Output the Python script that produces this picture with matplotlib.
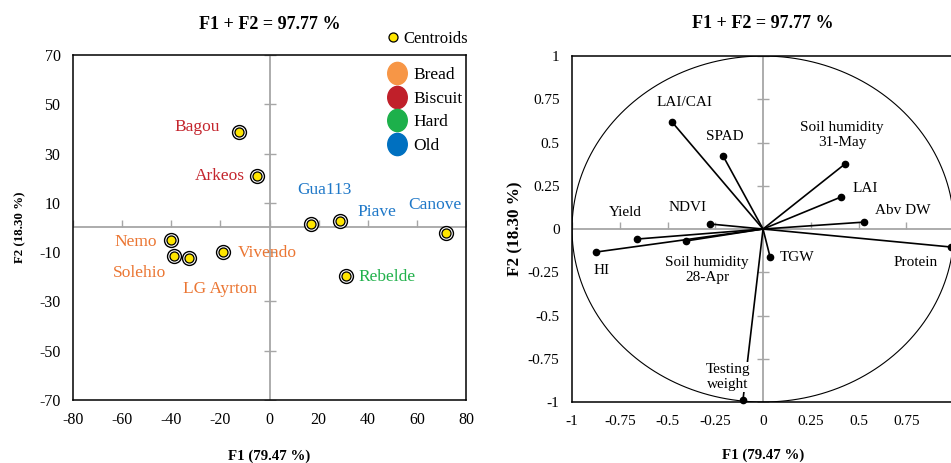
import numpy as np
import matplotlib
matplotlib.use("Agg")
import matplotlib.pyplot as plt
from matplotlib.lines import Line2D
from matplotlib.markers import MarkerStyle
from matplotlib.transforms import Affine2D

plt.rcParams['font.family'] = ['Liberation Serif', 'DejaVu Serif']
plt.rcParams['axes.unicode_minus'] = False

# ---- observations (centroids) ----
cultivars = ["Bagou", "Arkeos", "Gua113", "Piave", "Canove",
             "Nemo", "Solehio", "LG Ayrton", "Vivendo", "Rebelde"]
f1_obs = [-12.4, -5.1, 16.9, 28.7, 71.9, -40.1, -38.9, -32.8, -18.9, 31.2]
f2_obs = [38.8, 20.9, 1.4, 2.6, -2.2, -5.1, -11.6, -12.4, -9.9, -19.7]
groups = ["Biscuit", "Biscuit", "Old", "Old", "Old",
          "Bread", "Bread", "Bread", "Bread", "Hard"]

# ---- variables (correlation circle) ----
variables = ["LAI/CAI", "SPAD", "Soil humidity\n31-May", "LAI", "Abv DW", "NDVI",
             "Yield", "Soil humidity\n28-Apr", "HI", "TGW", "Protein", "Testing\nweight"]
f1_var = [-0.476, -0.209, 0.429, 0.408, 0.529, -0.277,
          -0.660, -0.403, -0.874, 0.037, 0.984, -0.105]
f2_var = [0.618, 0.422, 0.376, 0.185, 0.040, 0.029,
          -0.058, -0.069, -0.133, -0.162, -0.104, -0.988]

group_names = ["Bread", "Biscuit", "Hard", "Old"]
legend_colors = {"Bread": "#F79646", "Biscuit": "#C0202A", "Hard": "#1DB04B", "Old": "#0070C0"}
text_colors = {"Bread": "#EB7633", "Biscuit": "#C4262E", "Hard": "#22B14C", "Old": "#1F78C8"}

# label offsets in pixels (dx, dy up)
obs_off = [(-42, 5), (-37, 0), (13, 34), (37, 9), (-11, 28),
           (-35, -2), (-35, -17), (31, -31), (44, -1), (41, -1)]
var_off = [(12, 20), (2, 20), (-3, 29), (24, 9), (39, 12), (-23, 17),
           (-12, 27), (21, -29), (6, -18), (27, 0), (-35, -15), (-15, 23)]

title = "F1 + F2 = 97.77 %"
xlab = "F1 (79.47 %)"
ylab = "F2 (18.30 %)"

fig = plt.figure(figsize=(9.51, 4.63), dpi=100)
px = 0.72  # pixels -> points

# ================= left: observations =================
ax1 = fig.add_axes([0.0768, 0.1361, 0.4133, 0.7451])
ax1.set_xlim(-80, 80)
ax1.set_ylim(-70, 70)
xt1 = np.arange(-80, 81, 20)
yt1 = np.arange(-70, 71, 20)
ax1.set_xticks(xt1)
ax1.set_yticks(yt1)
ax1.tick_params(length=0, labelsize=11.5, pad=9)
ax1.axhline(0, color="#A6A6A6", lw=1.3, zorder=1)
ax1.axvline(0, color="#A6A6A6", lw=1.3, zorder=1)
ax1.plot(xt1, np.zeros(len(xt1)), ls="none", marker=2, ms=5, mew=1, color="#A6A6A6", zorder=1)
ax1.plot(np.zeros(len(yt1)), yt1, ls="none", marker="_", ms=8, mew=1, color="#A6A6A6", zorder=1)
for s in ax1.spines.values():
    s.set_linewidth(1.1)

ax1.plot(f1_obs, f2_obs, ls="none", marker="o", ms=10, mfc="white", mec="black", mew=1.0, zorder=3)
ax1.plot(f1_obs, f2_obs, ls="none", marker="o", ms=6.5, mfc="#FFE600", mec="black", mew=0.9, zorder=4)
for name, x, y, g, (dx, dy) in zip(cultivars, f1_obs, f2_obs, groups, obs_off):
    ax1.annotate(name, (x, y), xytext=(dx * px, dy * px), textcoords="offset points",
                 ha="center", va="center", fontsize=12.5, color=text_colors[g])

ax1.set_title(title, fontsize=13, fontweight="bold", pad=19)
ax1.set_xlabel(xlab, fontsize=10.7, fontweight="bold", labelpad=15)
ax1.set_ylabel(ylab, fontsize=9.3, fontweight="bold", labelpad=9)

ell = MarkerStyle("o", transform=Affine2D().scale(0.88, 1.0))
handles = [Line2D([], [], ls="none", marker=ell, ms=16, mfc=legend_colors[g], mec=legend_colors[g])
           for g in group_names]
leg = ax1.legend(handles, group_names, loc="upper right", frameon=False, fontsize=12.5,
                 handlelength=1.0, handletextpad=0.45, labelspacing=0.42,
                 borderaxespad=0.0, bbox_to_anchor=(1.008, 0.985))
ax1.add_artist(leg)
ch = Line2D([], [], ls="none", marker="o", ms=6.5, mfc="#FFE600", mec="black", mew=0.9)
ax1.legend([ch], ["Centroids"], loc="lower right", frameon=False, fontsize=12,
           handlelength=0.6, handletextpad=0.3, borderaxespad=0,
           bbox_to_anchor=(1.022, 1.005))

# ================= right: correlation circle =================
ax2 = fig.add_axes([0.6015, 0.1317, 0.4017, 0.7473])
ax2.set_xlim(-1, 1)
ax2.set_ylim(-1, 1)
xt2 = [-1, -0.75, -0.5, -0.25, 0, 0.25, 0.5, 0.75]
yt2 = [-1, -0.75, -0.5, -0.25, 0, 0.25, 0.5, 0.75, 1]
fmt = lambda v: "0" if v == 0 else ("%g" % v)
ax2.set_xticks(xt2)
ax2.set_xticklabels([fmt(v) for v in xt2])
ax2.set_yticks(yt2)
ax2.set_yticklabels([fmt(v) for v in yt2])
ax2.tick_params(length=0, labelsize=11, pad=9)
ax2.axhline(0, color="#A6A6A6", lw=1.3, zorder=1)
ax2.axvline(0, color="#A6A6A6", lw=1.3, zorder=1)
ax2.plot(xt2, np.zeros(len(xt2)), ls="none", marker=2, ms=5, mew=1, color="#A6A6A6", zorder=1)
ax2.plot(np.zeros(len(yt2)), yt2, ls="none", marker="_", ms=8, mew=1, color="#A6A6A6", zorder=1)
for s in ax2.spines.values():
    s.set_linewidth(1.1)
ax2.spines["right"].set_visible(False)

th = np.linspace(0, 2 * np.pi, 400)
ax2.plot(np.cos(th), np.sin(th), color="black", lw=0.8, zorder=2)
for name, x, y, (dx, dy) in zip(variables, f1_var, f2_var, var_off):
    ax2.plot([0, x], [0, y], color="black", lw=1.2, zorder=3)
    ax2.plot([x], [y], ls="none", marker="o", ms=4.5, color="black", zorder=4, clip_on=False)
    bb = dict(facecolor="white", edgecolor="none", pad=1) if name.startswith("Testing") else None
    ax2.annotate(name, (x, y), xytext=(dx * px, dy * px), textcoords="offset points",
                 ha="center", va="center", fontsize=11, linespacing=1.15, bbox=bb, zorder=5)

ax2.set_title(title, fontsize=13, fontweight="bold", pad=20)
ax2.set_xlabel(xlab, fontsize=10.7, fontweight="bold", labelpad=15)
ax2.set_ylabel(ylab, fontsize=12.3, fontweight="bold", labelpad=3)

fig.savefig("out.png", dpi=100)
